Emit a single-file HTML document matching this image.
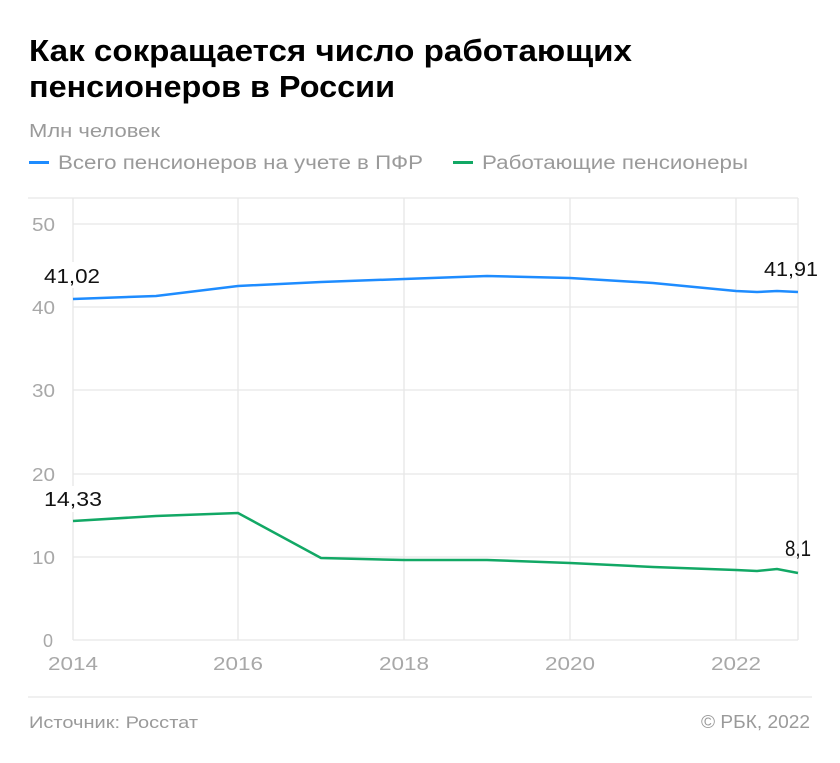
<!DOCTYPE html>
<html><head><meta charset="utf-8"><style>
body{margin:0;background:#fff;}
svg{display:block;font-family:"Liberation Sans","Noto Sans CJK SC",sans-serif;}
</style></head><body>
<svg width="840" height="763" viewBox="0 0 840 763">
<text x="29" y="61" font-size="31" font-weight="bold" fill="#000" textLength="603" lengthAdjust="spacingAndGlyphs">Как сокращается число работающих</text>
<text x="29" y="97" font-size="31" font-weight="bold" fill="#000" textLength="366" lengthAdjust="spacingAndGlyphs">пенсионеров в России</text>
<text x="29" y="137" font-size="18" fill="#9a9a9a" textLength="131" lengthAdjust="spacingAndGlyphs">Млн человек</text>
<rect x="29" y="161" width="20" height="3" fill="#1e8cff"/>
<text x="58" y="169" font-size="19" fill="#9a9a9a" textLength="365" lengthAdjust="spacingAndGlyphs">Всего пенсионеров на учете в ПФР</text>
<rect x="453" y="161" width="20" height="3" fill="#12a865"/>
<text x="482" y="169" font-size="19" fill="#9a9a9a" textLength="266" lengthAdjust="spacingAndGlyphs">Работающие пенсионеры</text>
<g stroke="#e6e6e6" stroke-width="1.3" fill="none">
<line x1="28" y1="198" x2="798" y2="198"/>
<line x1="73" y1="224" x2="798" y2="224"/>
<line x1="73" y1="307" x2="798" y2="307"/>
<line x1="73" y1="390" x2="798" y2="390"/>
<line x1="73" y1="474" x2="798" y2="474"/>
<line x1="73" y1="557" x2="798" y2="557"/>
<line x1="73" y1="640" x2="798" y2="640"/>
<line x1="73" y1="198" x2="73" y2="640"/>
<line x1="238" y1="198" x2="238" y2="640"/>
<line x1="404" y1="198" x2="404" y2="640"/>
<line x1="570" y1="198" x2="570" y2="640"/>
<line x1="736" y1="198" x2="736" y2="640"/>
<line x1="798" y1="198" x2="798" y2="640"/>
<line x1="28" y1="697" x2="812" y2="697"/>
</g>
<g font-size="18" fill="#a8a8a8">
<text x="32" y="231" textLength="23" lengthAdjust="spacingAndGlyphs">50</text><text x="32" y="314" textLength="23" lengthAdjust="spacingAndGlyphs">40</text><text x="32" y="397" textLength="23" lengthAdjust="spacingAndGlyphs">30</text>
<text x="32" y="481" textLength="23" lengthAdjust="spacingAndGlyphs">20</text><text x="32" y="564" textLength="23" lengthAdjust="spacingAndGlyphs">10</text><text x="43" y="647">0</text>
<text x="48" y="670" textLength="50" lengthAdjust="spacingAndGlyphs">2014</text><text x="213" y="670" textLength="50" lengthAdjust="spacingAndGlyphs">2016</text>
<text x="379" y="670" textLength="50" lengthAdjust="spacingAndGlyphs">2018</text><text x="545" y="670" textLength="50" lengthAdjust="spacingAndGlyphs">2020</text>
<text x="711" y="670" textLength="50" lengthAdjust="spacingAndGlyphs">2022</text>
</g>
<polyline fill="none" stroke="#1e8cff" stroke-width="2.5" points="73,299 156,296 238,286 321,282 404,279 487,276 570,278 653,283 736,291 757,292 777,291 798,292"/>
<polyline fill="none" stroke="#12a865" stroke-width="2.5" points="73,521 156,516 238,513 321,558 404,560 487,560 570,563 653,567 736,570 757,571 777,569 798,573"/>
<rect x="42" y="262" width="62" height="26" fill="#fff"/>
<text x="44" y="283" font-size="20" fill="#111" textLength="56" lengthAdjust="spacingAndGlyphs">41,02</text>
<text x="764" y="276" font-size="20" fill="#111" textLength="54" lengthAdjust="spacingAndGlyphs">41,91</text>
<rect x="42" y="486" width="62" height="26" fill="#fff"/>
<text x="44" y="506" font-size="20" fill="#111" textLength="58" lengthAdjust="spacingAndGlyphs">14,33</text>
<text x="785" y="556" font-size="22" fill="#111" textLength="26" lengthAdjust="spacingAndGlyphs">8,1</text>
<text x="29" y="728" font-size="17" fill="#9a9a9a" textLength="169" lengthAdjust="spacingAndGlyphs">Источник: Росстат</text>
<text x="701" y="728" font-size="18" fill="#9a9a9a" textLength="109" lengthAdjust="spacingAndGlyphs">© РБК, 2022</text>
</svg>
</body></html>
